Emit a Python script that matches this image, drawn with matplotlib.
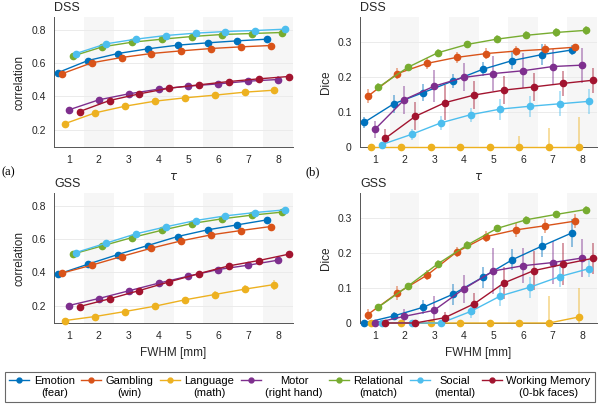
import matplotlib
matplotlib.use("Agg")
import matplotlib.pyplot as plt
from matplotlib.lines import Line2D
from matplotlib.legend_handler import HandlerLine2D
import numpy as np

plt.rcParams['font.family'] = ['Liberation Sans', 'DejaVu Sans']

taus = np.arange(1, 9)
names = ["Emotion\n(fear)", "Gambling\n(win)", "Language\n(math)", "Motor\n(right hand)",
         "Relational\n(match)", "Social\n(mental)", "Working Memory\n(0-bk faces)"]
colors = ["#0072BD", "#D95319", "#EDB120", "#7E2F8E", "#77AC30", "#4DBEEE", "#A2142F"]

# DSS correlation
dss_corr = [
    [0.542, 0.614, 0.656, 0.684, 0.706, 0.720, 0.732, 0.742],
    [0.534, 0.600, 0.632, 0.656, 0.672, 0.686, 0.696, 0.704],
    [0.236, 0.300, 0.340, 0.370, 0.390, 0.406, 0.424, 0.436],
    [0.318, 0.378, 0.414, 0.442, 0.460, 0.474, 0.490, 0.500],
    [0.640, 0.696, 0.724, 0.742, 0.758, 0.770, 0.776, 0.782],
    [0.656, 0.714, 0.742, 0.764, 0.778, 0.788, 0.794, 0.802],
    [0.308, 0.374, 0.414, 0.448, 0.468, 0.488, 0.504, 0.518],
]
dss_corr_err = [
    [0.005, 0.005, 0.005, 0.005, 0.005, 0.006, 0.006, 0.006],
    [0.005, 0.005, 0.005, 0.005, 0.005, 0.006, 0.006, 0.006],
    [0.008, 0.008, 0.010, 0.010, 0.012, 0.015, 0.018, 0.020],
    [0.010, 0.010, 0.012, 0.012, 0.014, 0.016, 0.018, 0.020],
    [0.004, 0.004, 0.004, 0.004, 0.005, 0.005, 0.005, 0.005],
    [0.004, 0.004, 0.004, 0.004, 0.005, 0.005, 0.005, 0.005],
    [0.008, 0.008, 0.010, 0.010, 0.012, 0.012, 0.012, 0.012],
]

# DSS Dice
dss_dice = [
    [0.070, 0.123, 0.155, 0.188, 0.221, 0.246, 0.263, 0.276],
    [0.144, 0.209, 0.238, 0.255, 0.266, 0.273, 0.278, 0.284],
    [0.0, 0.0, 0.0, 0.0, 0.0, 0.0, 0.0, 0.0],
    [0.050, 0.135, 0.173, 0.198, 0.209, 0.217, 0.229, 0.233],
    [0.170, 0.227, 0.268, 0.292, 0.307, 0.318, 0.326, 0.332],
    [0.007, 0.036, 0.069, 0.092, 0.108, 0.116, 0.123, 0.130],
    [0.025, 0.087, 0.126, 0.148, 0.162, 0.171, 0.181, 0.190],
]
dss_dice_err = [
    [0.015, 0.025, 0.025, 0.020, 0.020, 0.025, 0.030, 0.015],
    [0.020, 0.015, 0.015, 0.015, 0.015, 0.015, 0.015, 0.010],
    [0.0, 0.0, 0.0, 0.0, 0.0, 0.030, 0.053, 0.084],
    [0.025, 0.040, 0.045, 0.040, 0.050, 0.050, 0.050, 0.050],
    [0.012, 0.010, 0.010, 0.010, 0.012, 0.012, 0.012, 0.012],
    [0.005, 0.015, 0.020, 0.020, 0.030, 0.030, 0.035, 0.035],
    [0.025, 0.040, 0.050, 0.040, 0.040, 0.040, 0.035, 0.035],
]

# GSS correlation
gss_corr = [
    [0.388, 0.448, 0.506, 0.560, 0.614, 0.654, 0.684, 0.714],
    [0.394, 0.442, 0.494, 0.544, 0.588, 0.624, 0.650, 0.674],
    [0.110, 0.134, 0.164, 0.196, 0.234, 0.266, 0.298, 0.326],
    [0.200, 0.242, 0.288, 0.334, 0.376, 0.416, 0.442, 0.472],
    [0.508, 0.558, 0.608, 0.652, 0.692, 0.720, 0.742, 0.760],
    [0.518, 0.574, 0.630, 0.672, 0.710, 0.738, 0.758, 0.774],
    [0.194, 0.240, 0.290, 0.342, 0.392, 0.438, 0.470, 0.508],
]
gss_corr_err = [
    [0.004, 0.004, 0.005, 0.005, 0.005, 0.006, 0.006, 0.008],
    [0.004, 0.004, 0.005, 0.005, 0.005, 0.006, 0.006, 0.008],
    [0.005, 0.006, 0.008, 0.010, 0.015, 0.020, 0.025, 0.030],
    [0.006, 0.008, 0.010, 0.012, 0.015, 0.018, 0.020, 0.025],
    [0.004, 0.004, 0.005, 0.005, 0.005, 0.005, 0.005, 0.006],
    [0.004, 0.004, 0.005, 0.005, 0.005, 0.005, 0.005, 0.006],
    [0.006, 0.008, 0.010, 0.010, 0.012, 0.012, 0.015, 0.015],
]

# GSS Dice
gss_dice = [
    [0.0, 0.020, 0.045, 0.082, 0.130, 0.180, 0.219, 0.256],
    [0.024, 0.085, 0.136, 0.202, 0.246, 0.265, 0.277, 0.290],
    [0.0, 0.0, 0.0, 0.0, 0.0, 0.0, 0.0, 0.017],
    [0.0, 0.019, 0.036, 0.097, 0.148, 0.163, 0.172, 0.185],
    [0.045, 0.105, 0.168, 0.222, 0.269, 0.294, 0.309, 0.323],
    [0.0, 0.0, 0.0, 0.033, 0.077, 0.102, 0.132, 0.155],
    [0.0, 0.0, 0.015, 0.055, 0.114, 0.149, 0.167, 0.184],
]
gss_dice_err = [
    [0.0, 0.010, 0.020, 0.030, 0.030, 0.030, 0.030, 0.040],
    [0.015, 0.020, 0.015, 0.015, 0.015, 0.020, 0.020, 0.020],
    [0.0, 0.0, 0.0, 0.0, 0.0, 0.0, 0.076, 0.083],
    [0.0, 0.020, 0.040, 0.040, 0.065, 0.050, 0.060, 0.055],
    [0.010, 0.010, 0.010, 0.010, 0.010, 0.010, 0.010, 0.010],
    [0.0, 0.0, 0.0, 0.020, 0.030, 0.030, 0.030, 0.025],
    [0.0, 0.0, 0.015, 0.030, 0.045, 0.055, 0.060, 0.045],
]

offsets = (np.arange(7) - 3) * 0.12


class FirstLineHandler(HandlerLine2D):
    # put the legend line next to the first text line, not the middle
    def create_artists(self, legend, orig_handle, xdescent, ydescent,
                       width, height, fontsize, trans):
        arts = super().create_artists(legend, orig_handle, xdescent, ydescent,
                                      width, height, fontsize, trans)
        for a in arts:
            a.set_ydata(np.asarray(a.get_ydata(), dtype=float) + 0.6 * fontsize)
        return arts


fig = plt.figure(figsize=(6.0, 4.09), dpi=100)

W, H = 600.0, 409.0
def ax_at(l, t, w, h):
    return fig.add_axes([l / W, 1 - (t + h) / H, w / W, h / H])

panels = [
    (ax_at(54, 17, 239, 130), dss_corr, dss_corr_err, "DSS", "correlation", r"$\tau$", (0.095, 0.875), [0.2, 0.4, 0.6, 0.8]),
    (ax_at(360, 17, 237, 130), dss_dice, dss_dice_err, "DSS", "Dice", r"$\tau$", (0, 0.37), [0, 0.1, 0.2, 0.3]),
    (ax_at(54, 193, 239, 130), gss_corr, gss_corr_err, "GSS", "correlation", "FWHM [mm]", (0.095, 0.875), [0.2, 0.4, 0.6, 0.8]),
    (ax_at(360, 193, 237, 130), gss_dice, gss_dice_err, "GSS", "Dice", "FWHM [mm]", (0, 0.37), [0, 0.1, 0.2, 0.3]),
]

for ax, vals, errs, title, ylab, xlab, ylim, yticks in panels:
    for b in [2, 4, 6, 8]:
        ax.axvspan(b - 0.5, b + 0.5, color="#f6f6f6", lw=0, zorder=0)
    for yt in yticks:
        ax.axhline(yt, color="#ebebeb", lw=0.7, zorder=0.5)
    for i in range(7):
        v = np.array(vals[i])
        e = np.array(errs[i])
        lo = np.minimum(e, v - ylim[0]) if ylim[0] == 0 else e
        x = taus + offsets[i]
        ax.errorbar(x, v, yerr=[lo, e], fmt="none", ecolor=colors[i], alpha=0.5,
                    elinewidth=1.2, capsize=0, zorder=2, clip_on=False)
        ax.plot(x, v, "-o", color=colors[i], ms=4.5, lw=1.0, zorder=3, clip_on=False)
    ax.set_xlim(0.5, 8.5)
    ax.set_ylim(*ylim)
    ax.set_xticks(taus)
    ax.set_yticks(yticks)
    ax.set_yticklabels([f"{t:g}" for t in yticks])
    ax.tick_params(length=0, labelsize=7.5, colors="#262626", pad=6)
    for s in ["top", "right"]:
        ax.spines[s].set_visible(False)
    for s in ["left", "bottom"]:
        ax.spines[s].set_color("#555555")
        ax.spines[s].set_linewidth(0.7)
    ax.set_ylabel(ylab, fontsize=8.5, color="#262626")
    ax.set_xlabel(xlab, fontsize=8.5, color="#262626")
    ax.set_title(title, loc="left", fontsize=9, color="#262626", pad=4)

fig.text(2 / W, 1 - 172 / H, "(a)", family="Liberation Serif", fontsize=9, va="center")
fig.text(305 / W, 1 - 172 / H, "(b)", family="Liberation Serif", fontsize=9, va="center")

handles = [Line2D([0], [0], color=c, marker="o", ms=3.5, lw=1.0) for c in colors]
leg = fig.legend(handles, names, loc="center", ncol=7, mode="expand",
                 bbox_to_anchor=(5 / W, 1 - 408 / H, 590 / W, 42 / H),
                 fontsize=8, frameon=True, fancybox=False, handlelength=1.8,
                 handletextpad=0.4, columnspacing=0.6, borderaxespad=0,
                 handler_map={Line2D: FirstLineHandler()})
leg.get_frame().set_edgecolor("#444444")
leg.get_frame().set_linewidth(0.8)
for t in leg.get_texts():
    t.set_multialignment("center")

fig.savefig("out.png", dpi=100)
